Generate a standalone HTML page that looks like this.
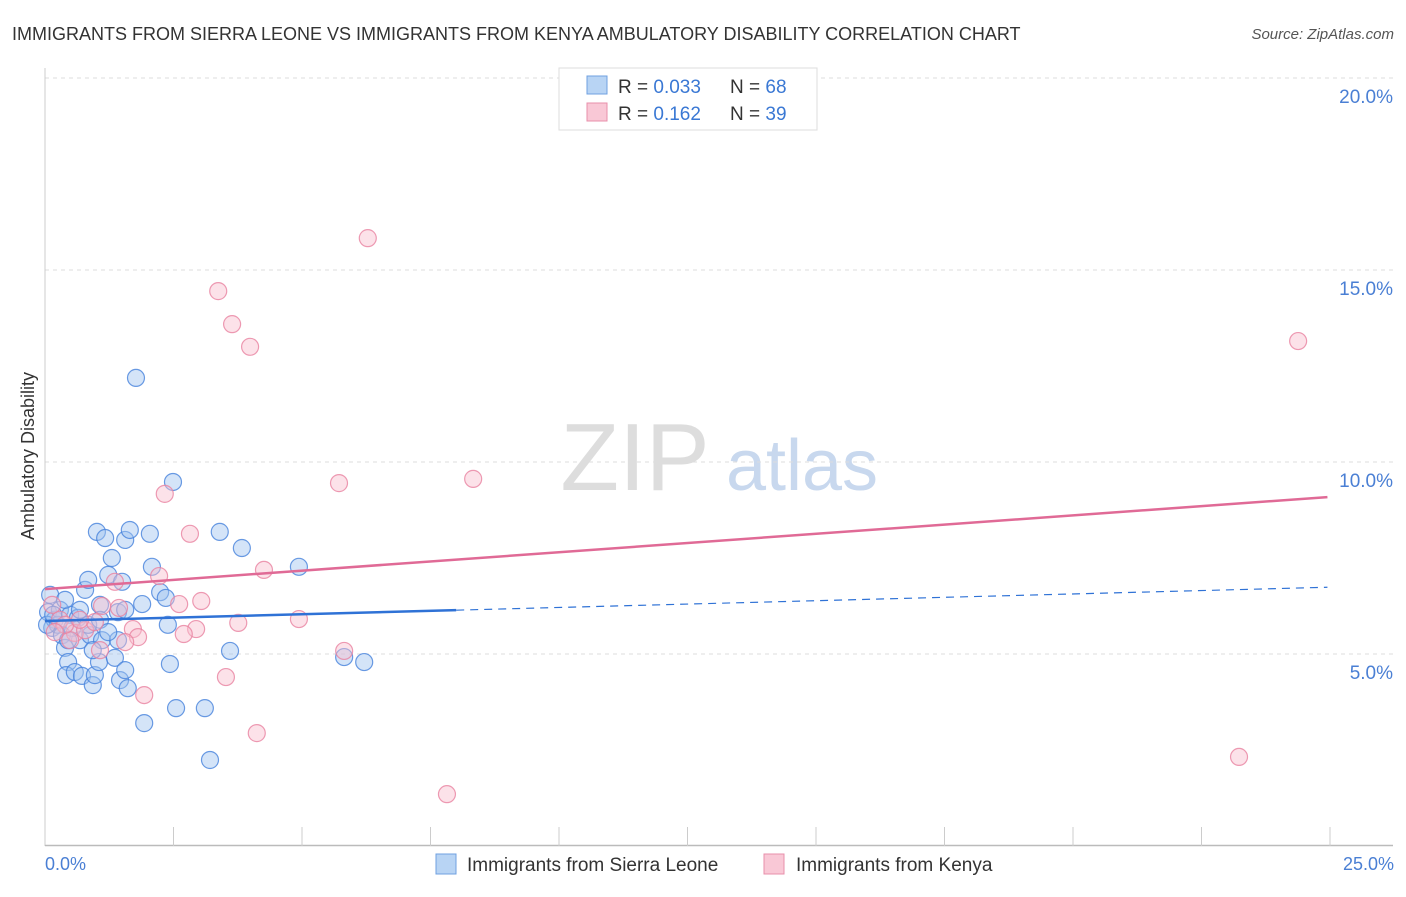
<!DOCTYPE html>
<html><head><meta charset="utf-8"><style>
body{margin:0;background:#fff;font-family:"Liberation Sans",sans-serif;}
svg text{font-family:"Liberation Sans",sans-serif;}
</style></head><body>
<svg width="1406" height="892" viewBox="0 0 1406 892" xmlns="http://www.w3.org/2000/svg">
<text x="12" y="40" font-size="18" fill="#333">IMMIGRANTS FROM SIERRA LEONE VS IMMIGRANTS FROM KENYA AMBULATORY DISABILITY CORRELATION CHART</text>
<text x="1394" y="39" font-size="15" fill="#555" font-style="italic" text-anchor="end">Source: ZipAtlas.com</text>
<g>
<text x="635" y="490" font-size="96" fill="#ddd" font-family="Liberation Serif" text-anchor="middle">ZIP</text>
<text x="802" y="490" font-size="72" fill="#c8d8ee" text-anchor="middle">atlas</text>
</g>
<g id="grid"></g>
<line x1="45" y1="68" x2="45" y2="846" stroke="#ccc"/>
<line x1="45" y1="845.5" x2="1393" y2="845.5" stroke="#bbb" stroke-width="1.5"/>
<g id="xticks"></g>
<text x="45" y="870" font-size="18" fill="#4a7fd4">0.0%</text>
<text x="1394" y="870" font-size="18" fill="#4a7fd4" text-anchor="end">25.0%</text>
<text transform="translate(34,456) rotate(-90)" font-size="18" fill="#333" text-anchor="middle">Ambulatory Disability</text>
<g id="pts"></g>
<g id="lines"></g>
<g>
<rect x="559" y="68" width="258" height="62" fill="#fff" stroke="#ddd"/>
<rect x="587" y="76" width="20" height="18" fill="#b8d4f4" stroke="#6fa0e0"/>
<rect x="587" y="103" width="20" height="18" fill="#f9c8d6" stroke="#e88fab"/>
<text x="618" y="93" font-size="19" fill="#333">R = <tspan fill="#3a78d4">0.033</tspan></text>
<text x="730" y="93" font-size="19" fill="#333">N = <tspan fill="#3a78d4">68</tspan></text>
<text x="618" y="120" font-size="19" fill="#333">R =  <tspan fill="#3a78d4">0.162</tspan></text>
<text x="730" y="120" font-size="19" fill="#333">N = <tspan fill="#3a78d4">39</tspan></text>
</g>
<g>
<rect x="436" y="854" width="20" height="20" fill="#b8d4f4" stroke="#6fa0e0"/>
<text x="467" y="871" font-size="19" fill="#333">Immigrants from Sierra Leone</text>
<rect x="764" y="854" width="20" height="20" fill="#f9c8d6" stroke="#e88fab"/>
<text x="796" y="871" font-size="19" fill="#333">Immigrants from Kenya</text>
</g>
</svg>
<script>
const yTicks=[5,10,15,20];
const yTickLabels=["5.0%","10.0%","15.0%","20.0%"];
const xTickVals=[2.5,5,7.5,10,12.5,15,17.5,20,22.5,25];
const blueX=[0.10,0.06,0.14,0.19,0.29,0.25,0.33,0.39,0.45,0.41,0.49,0.58,0.64,0.68,0.72,0.78,0.84,0.88,0.93,0.97,1.01,1.05,1.07,1.11,1.17,1.23,1.30,1.36,1.42,1.46,1.50,1.56,1.56,1.61,1.65,1.77,1.89,1.93,2.04,2.08,2.24,2.35,2.39,2.43,2.49,2.55,3.11,3.21,3.40,3.60,3.83,4.94,5.82,6.21,0.04,0.16,0.53,0.84,1.07,1.23,1.42,0.39,0.68,1.56,0.45,0.93];
const blueY=[6.54,6.09,5.68,5.89,6.15,5.76,5.49,5.16,4.79,4.45,6.02,4.53,5.94,5.36,4.43,6.67,6.93,5.49,4.19,4.45,8.18,4.79,6.28,5.36,8.02,7.06,7.50,4.90,5.36,4.32,6.88,7.97,4.58,4.11,8.23,12.19,6.30,3.20,8.13,7.27,6.61,6.46,5.76,4.74,9.48,3.59,3.59,2.24,8.18,5.08,7.76,7.27,4.92,4.79,5.76,6.02,5.68,5.76,5.89,5.57,6.09,6.41,6.15,6.15,5.36,5.10];
const pinkX=[6.28,3.37,3.64,3.99,24.38,5.72,8.33,2.33,2.82,4.26,2.22,1.36,3.04,2.61,1.44,1.11,4.94,3.76,2.94,2.70,1.71,1.81,1.56,5.82,3.52,1.93,4.12,7.82,23.23,1.07,0.29,0.58,0.78,0.14,0.49,0.97,0.39,0.19,0.68];
const pinkY=[15.83,14.45,13.59,13.0,13.15,9.45,9.56,9.17,8.13,7.19,7.03,6.88,6.38,6.30,6.20,6.25,5.91,5.81,5.65,5.52,5.65,5.44,5.31,5.08,4.40,3.93,2.94,1.35,2.32,5.10,5.89,5.55,5.62,6.28,5.36,5.83,5.76,5.57,5.89];
const blueTrend=[5.86,0.0352]; // intercept, slope
const pinkTrend=[6.69,0.096];
const blueSolidEnd=8.0, blueDashEnd=24.95, pinkEnd=24.95;
const NS="http://www.w3.org/2000/svg";
const sx=v=>45+v/25*1285;
const sy=v=>846-v/20*768;
function mk(tag,attrs,parent){const e=document.createElementNS(NS,tag);for(const k in attrs)e.setAttribute(k,attrs[k]);document.getElementById(parent).appendChild(e);return e;}
yTicks.forEach((t,i)=>{
 const l=mk('line',{x1:45,x2:1393,y1:sy(t),y2:sy(t),stroke:'#ddd','stroke-dasharray':'4,4'},'grid');
 
 
 const tx=mk('text',{x:1393,y:sy(t)+25,'font-size':19,fill:'#4a7fd4','text-anchor':'end'},'grid');
 tx.textContent=yTickLabels[i];
 
 
});
xTickVals.forEach(t=>{
 const l=mk('line',{x1:sx(t),x2:sx(t),y1:827,y2:846,stroke:'#ccc'},'xticks');
 
 
});
function pts(X,Y,fill,stroke,name){X.forEach((x,i)=>{
 const c=mk('circle',{cx:sx(x),cy:sy(Y[i]),r:8.5,fill:fill,stroke:stroke,'stroke-width':1.2},'pts');
 
 
});}
pts(blueX,blueY,'rgba(160,196,240,0.45)','rgba(70,130,220,0.8)','point-sierra-leone');
pts(pinkX,pinkY,'rgba(248,190,206,0.45)','rgba(232,130,160,0.8)','point-kenya');
const tl=(tr,x)=>tr[0]+tr[1]*x;
let a=mk('line',{x1:sx(0),y1:sy(tl(pinkTrend,0)),x2:sx(pinkEnd),y2:sy(tl(pinkTrend,pinkEnd)),stroke:'#e06a96','stroke-width':2.5},'lines');


let b=mk('line',{x1:sx(0),y1:sy(tl(blueTrend,0)),x2:sx(blueSolidEnd),y2:sy(tl(blueTrend,blueSolidEnd)),stroke:'#2f72d6','stroke-width':2.5},'lines');


let c=mk('line',{x1:sx(blueSolidEnd),y1:sy(tl(blueTrend,blueSolidEnd)),x2:sx(blueDashEnd),y2:sy(tl(blueTrend,blueDashEnd)),stroke:'#2f72d6','stroke-width':1.2,'stroke-dasharray':'8,6'},'lines');


</script>
</body></html>
